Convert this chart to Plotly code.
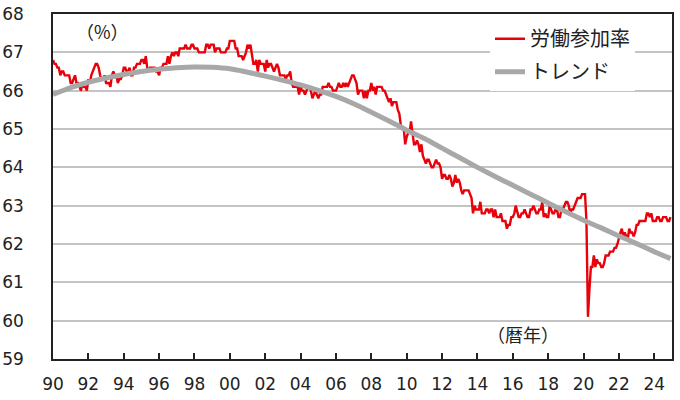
import pandas as pd
import plotly.graph_objects as go

# Monthly labor force participation rate (%), Jan 1990 - Dec 2024
lfpr_1990s = [
    66.8, 66.7, 66.7, 66.6, 66.6, 66.4, 66.5, 66.5, 66.4, 66.4, 66.4, 66.4,  # 1990
    66.2, 66.2, 66.3, 66.4, 66.2, 66.2, 66.1, 66.0, 66.2, 66.1, 66.1, 66.0,  # 1991
    66.3, 66.2, 66.4, 66.5, 66.6, 66.7, 66.7, 66.6, 66.4, 66.3, 66.3, 66.4,  # 1992
    66.2, 66.2, 66.2, 66.1, 66.4, 66.5, 66.4, 66.4, 66.2, 66.3, 66.3, 66.4,  # 1993
    66.6, 66.6, 66.5, 66.5, 66.6, 66.4, 66.4, 66.6, 66.6, 66.7, 66.7, 66.7,  # 1994
    66.8, 66.8, 66.7, 66.9, 66.6, 66.5, 66.6, 66.6, 66.6, 66.6, 66.5, 66.5,  # 1995
    66.4, 66.6, 66.6, 66.7, 66.7, 66.7, 66.9, 66.7, 66.9, 67.0, 66.9, 67.0,  # 1996
    67.0, 66.9, 67.1, 67.1, 67.1, 67.1, 67.2, 67.1, 67.1, 67.1, 67.2, 67.2,  # 1997
    67.1, 67.1, 67.1, 67.0, 67.0, 67.0, 67.0, 67.0, 67.2, 67.2, 67.1, 67.2,  # 1998
    67.2, 67.2, 67.0, 67.1, 67.1, 67.1, 67.0, 67.0, 67.0, 67.0, 67.1, 67.1,  # 1999
]
lfpr_2000s = [
    67.3, 67.3, 67.3, 67.3, 67.1, 67.1, 66.9, 66.9, 66.9, 66.8, 66.9, 67.0,  # 2000
    67.2, 67.1, 67.2, 66.9, 66.7, 66.7, 66.8, 66.5, 66.8, 66.7, 66.7, 66.7,  # 2001
    66.5, 66.8, 66.6, 66.7, 66.7, 66.6, 66.5, 66.6, 66.7, 66.6, 66.4, 66.4,  # 2002
    66.4, 66.4, 66.3, 66.4, 66.4, 66.5, 66.2, 66.1, 66.1, 66.1, 66.1, 65.9,  # 2003
    66.1, 66.0, 66.0, 65.9, 66.0, 66.1, 66.1, 66.0, 65.8, 65.9, 66.0, 65.9,  # 2004
    65.8, 65.9, 65.9, 66.1, 66.1, 66.1, 66.1, 66.2, 66.1, 66.1, 66.0, 66.0,  # 2005
    66.0, 66.1, 66.2, 66.1, 66.1, 66.2, 66.1, 66.2, 66.1, 66.2, 66.3, 66.4,  # 2006
    66.4, 66.3, 66.2, 65.9, 66.0, 66.0, 66.0, 65.8, 66.0, 65.8, 66.0, 66.0,  # 2007
    66.2, 66.0, 66.1, 65.9, 66.1, 66.1, 66.1, 66.1, 66.0, 66.0, 65.9, 65.8,  # 2008
    65.7, 65.8, 65.6, 65.7, 65.7, 65.7, 65.5, 65.4, 65.1, 65.0, 65.0, 64.6,  # 2009
]
lfpr_2010s = [
    64.8, 64.9, 64.9, 65.2, 64.9, 64.6, 64.6, 64.7, 64.6, 64.4, 64.6, 64.3,  # 2010
    64.2, 64.1, 64.2, 64.2, 64.1, 64.0, 64.0, 64.1, 64.2, 64.1, 64.1, 64.0,  # 2011
    63.7, 63.8, 63.8, 63.7, 63.7, 63.8, 63.7, 63.5, 63.6, 63.8, 63.6, 63.7,  # 2012
    63.6, 63.4, 63.3, 63.4, 63.4, 63.4, 63.4, 63.3, 63.2, 62.8, 63.0, 62.9,  # 2013
    62.9, 62.9, 63.1, 62.8, 62.8, 62.8, 62.9, 62.9, 62.8, 62.9, 62.9, 62.7,  # 2014
    62.9, 62.7, 62.7, 62.7, 62.8, 62.6, 62.6, 62.6, 62.4, 62.5, 62.5, 62.7,  # 2015
    62.7, 62.8, 63.0, 62.8, 62.7, 62.7, 62.8, 62.8, 62.9, 62.8, 62.7, 62.7,  # 2016
    62.9, 62.9, 63.0, 62.9, 62.8, 62.8, 62.9, 62.9, 63.1, 62.7, 62.8, 62.7,  # 2017
    62.7, 63.0, 62.9, 62.8, 62.8, 62.9, 62.9, 62.7, 62.7, 62.9, 62.9, 63.0,  # 2018
    63.1, 63.1, 63.0, 62.8, 62.9, 62.9, 63.0, 63.1, 63.2, 63.2, 63.2, 63.3,  # 2019
]
lfpr_2020s = [
    63.3, 63.3, 62.6, 60.1, 60.8, 61.4, 61.4, 61.7, 61.4, 61.6, 61.5, 61.5,  # 2020
    61.4, 61.4, 61.5, 61.7, 61.7, 61.7, 61.8, 61.8, 61.8, 61.9, 61.9, 62.0,  # 2021
    62.2, 62.3, 62.4, 62.2, 62.3, 62.2, 62.1, 62.4, 62.3, 62.3, 62.2, 62.3,  # 2022
    62.5, 62.5, 62.6, 62.6, 62.6, 62.6, 62.6, 62.8, 62.8, 62.7, 62.8, 62.6,  # 2023
    62.6, 62.6, 62.7, 62.7, 62.6, 62.6, 62.7, 62.7, 62.7, 62.6, 62.6, 62.7,  # 2024
]

# Trend line
trend_dates = [f"{y}-01-01" for y in range(1990, 2025)] + ["2024-12-01"]
trend_values = [
    65.90, 66.08, 66.22, 66.33, 66.42, 66.50, 66.56, 66.60, 66.62, 66.61,  # 1990-1999
    66.57, 66.48, 66.38, 66.27, 66.15, 66.01, 65.85, 65.66, 65.44, 65.21,  # 2000-2009
    64.97, 64.75, 64.50, 64.25, 64.00, 63.76, 63.53, 63.30, 63.07, 62.84,  # 2010-2019
    62.62, 62.42, 62.21, 62.01, 61.80, 61.62,                              # 2020-2024, Dec-2024
]

tick_years = list(range(1990, 2025, 2))
tick_labels = [f"{y % 100:02d}" for y in tick_years]

lfpr = lfpr_1990s + lfpr_2000s + lfpr_2010s + lfpr_2020s
dates = pd.date_range("1990-01-01", periods=len(lfpr), freq="MS")

fig = go.Figure()
fig.add_trace(go.Scatter(
    x=dates, y=lfpr, mode="lines", name="労働参加率",
    line=dict(color="#E8000B", width=2.4), legendgroup="a",
))
fig.add_trace(go.Scatter(
    x=trend_dates, y=trend_values, mode="lines", name="トレンド",
    line=dict(color="#A8A8A8", width=5, shape="spline"), legendgroup="b",
))

jp = "Noto Sans CJK JP"
fig.update_layout(
    width=680, height=400,
    margin=dict(l=53, r=8, t=14, b=41, autoexpand=False),
    paper_bgcolor="white", plot_bgcolor="white",
    font=dict(family="DejaVu Sans", color="#222222", size=16),
    showlegend=True,
    legend=dict(
        x=0.706, y=0.985, xanchor="left", yanchor="top",
        bgcolor="white", borderwidth=0,
        font=dict(family=jp, size=20, color="#222222"),
        traceorder="grouped", tracegroupgap=4,
    ),
    xaxis=dict(
        type="date", automargin=False,
        range=["1990-01-01", "2025-01-01"],
        tickvals=[f"{y}-01-01" for y in tick_years],
        ticktext=tick_labels,
        ticks="inside", ticklen=6, tickcolor="#222222", tickwidth=1.5,
        showline=True, linecolor="#222222", linewidth=1.5, mirror=True,
        showgrid=False, zeroline=False,
        tickfont=dict(size=17, family="DejaVu Sans"),
        ticklabelstandoff=9,
    ),
    yaxis=dict(
        range=[59, 68], dtick=1, tick0=59, automargin=False,
        ticks="", showline=True, linecolor="#222222", linewidth=1.5, mirror=True,
        showgrid=True, gridcolor="#C4C4C4", gridwidth=1.5, zeroline=False,
        tickfont=dict(size=17, family="DejaVu Sans"),
        ticklabelstandoff=24,
    ),
    annotations=[
        dict(text="（%）", xref="paper", yref="paper", x=(102 - 53) / 619, y=(359 - 31) / 345,
             xanchor="center", yanchor="middle",
             showarrow=False, font=dict(family=jp, size=18, color="#222222")),
        dict(text="（暦年）", xref="paper", yref="paper", x=(523 - 53) / 619, y=(359 - 334) / 345,
             xanchor="center", yanchor="middle",
             showarrow=False, font=dict(family=jp, size=18, color="#222222")),
    ],
)

fig.write_html("out.html", config={"displayModeBar": False},
               post_script="document.body.style.margin='0';")
